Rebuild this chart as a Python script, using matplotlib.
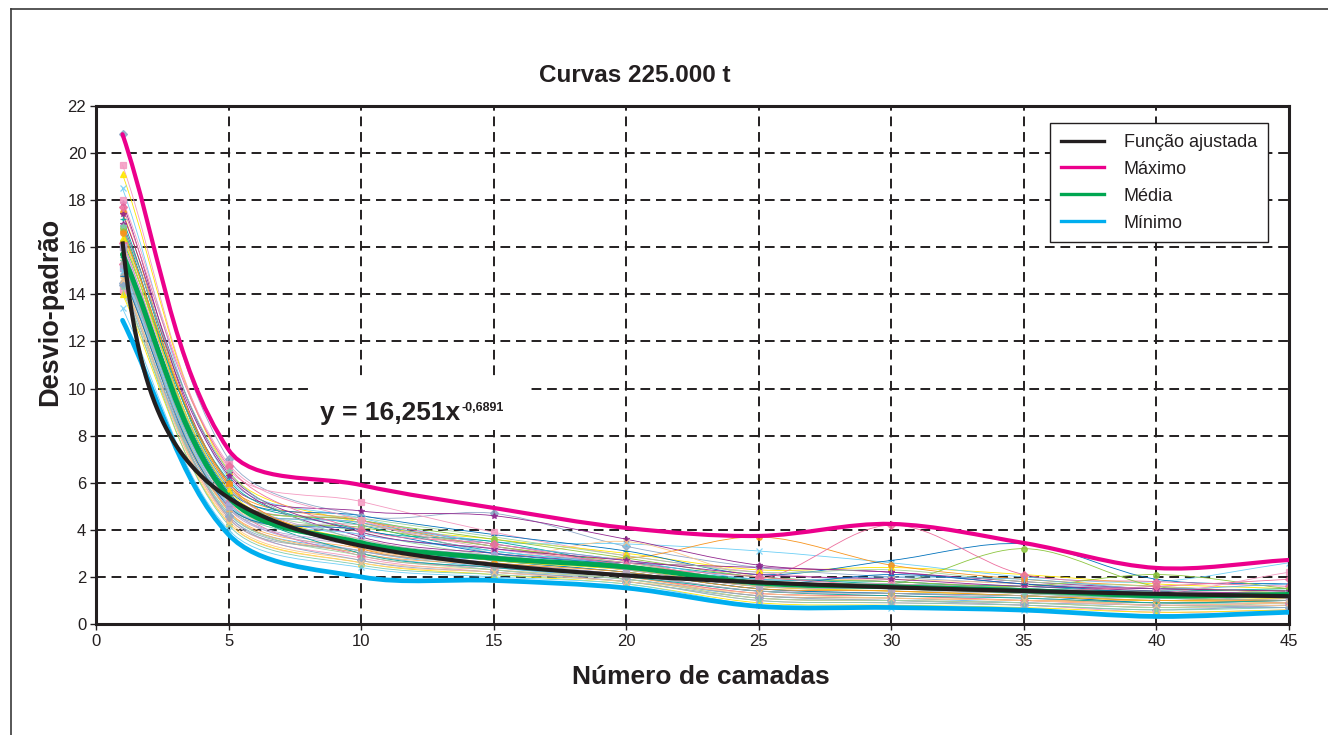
import numpy as np
import matplotlib
matplotlib.use("Agg")
import matplotlib.pyplot as plt
from matplotlib.path import Path
from matplotlib.patches import PathPatch, Rectangle
from matplotlib.lines import Line2D

plt.rcParams["font.family"] = ["Liberation Sans", "DejaVu Sans"]

# ---- data -------------------------------------------------------------
camadas = [1, 5, 10, 15, 20, 25, 30, 35, 40, 45]

maximo = [20.8, 7.4, 5.9, 4.93, 4.08, 3.74, 4.25, 3.44, 2.38, 2.72]
media = [15.7, 5.4, 3.45, 2.8, 2.42, 1.74, 1.58, 1.42, 1.2, 1.25]
minimo = [12.9, 3.8, 2.0, 1.85, 1.53, 0.75, 0.7, 0.59, 0.32, 0.5]

# fitted power function y = a * x^b
coef_a = 16.251
coef_b = -0.6891

# individual standard-deviation curves, one row per simulation
curvas = [
    [20.8, 7.0, 4.6, 4.7, 3.3, 2.4, 2.0, 1.7, 1.5, 1.4],
    [19.5, 6.6, 5.2, 3.9, 2.9, 2.2, 1.8, 1.6, 1.4, 1.3],
    [19.1, 6.5, 4.3, 3.6, 3.0, 2.3, 2.4, 2.1, 1.7, 1.5],
    [18.5, 6.2, 4.5, 3.5, 3.4, 3.1, 2.6, 2.0, 1.8, 2.6],
    [17.9, 6.0, 4.8, 4.6, 3.6, 2.5, 2.2, 1.8, 1.5, 1.4],
    [17.5, 5.9, 4.4, 3.3, 2.8, 3.7, 2.5, 1.9, 1.6, 1.3],
    [17.2, 5.8, 4.2, 3.1, 2.6, 2.0, 1.7, 1.6, 1.3, 1.2],
    [16.9, 5.7, 4.6, 3.8, 3.1, 2.1, 2.7, 3.4, 1.9, 1.7],
    [16.5, 5.6, 3.9, 2.9, 2.4, 1.8, 1.6, 1.5, 1.2, 1.1],
    [16.2, 5.5, 4.4, 3.4, 2.7, 1.9, 4.2, 2.1, 1.8, 1.6],
    [16.0, 5.4, 3.8, 3.2, 2.5, 1.7, 1.5, 1.4, 1.1, 1.0],
    [15.8, 5.3, 4.3, 3.0, 2.3, 1.6, 1.4, 1.3, 1.0, 1.2],
    [15.6, 5.2, 3.6, 2.8, 3.5, 2.0, 1.9, 1.7, 1.3, 1.1],
    [15.4, 5.1, 3.5, 2.7, 2.2, 1.5, 1.3, 1.2, 0.9, 0.9],
    [15.2, 5.0, 4.1, 3.3, 2.6, 1.8, 1.7, 3.2, 1.6, 1.4],
    [15.0, 4.9, 3.3, 2.6, 2.1, 1.4, 1.3, 1.1, 0.8, 0.8],
    [14.8, 4.8, 3.2, 2.5, 2.0, 1.3, 1.2, 1.0, 1.0, 0.9],
    [14.6, 4.7, 3.1, 2.4, 1.9, 1.2, 1.1, 0.9, 0.7, 0.7],
    [14.4, 4.6, 3.0, 2.3, 1.8, 1.1, 1.0, 0.8, 0.6, 0.8],
    [14.2, 4.5, 2.8, 2.2, 1.8, 1.0, 0.9, 0.8, 0.5, 0.6],
    [14.0, 4.3, 2.6, 2.1, 1.7, 0.9, 0.8, 0.7, 0.5, 0.6],
    [13.4, 4.0, 2.4, 2.0, 1.7, 0.8, 0.7, 0.6, 0.4, 0.55],
    [17.0, 6.3, 3.7, 3.0, 2.6, 2.4, 2.2, 1.7, 1.4, 1.3],
    [16.7, 5.9, 3.4, 2.8, 2.3, 1.6, 1.5, 1.3, 1.1, 1.0],
    [16.3, 6.1, 4.0, 3.5, 2.5, 1.9, 1.8, 1.5, 1.4, 1.5],
    [15.9, 5.6, 3.3, 2.7, 2.2, 1.5, 1.3, 1.2, 0.9, 1.0],
    [15.5, 5.4, 4.5, 3.7, 2.9, 2.2, 2.3, 1.8, 1.6, 1.3],
    [15.3, 5.2, 2.9, 2.4, 2.0, 1.3, 1.2, 1.0, 0.8, 0.9],
    [15.1, 5.0, 3.1, 2.6, 2.1, 1.4, 1.6, 1.4, 1.2, 1.1],
    [14.9, 4.9, 4.2, 3.3, 2.4, 1.7, 1.5, 1.3, 1.1, 1.2],
    [14.7, 4.4, 2.7, 2.3, 1.9, 1.1, 1.0, 0.9, 0.7, 0.8],
    [14.3, 4.2, 2.5, 2.1, 1.8, 1.0, 0.9, 0.8, 0.6, 0.7],
    [16.8, 5.5, 4.4, 3.6, 2.8, 2.0, 1.8, 1.6, 2.1, 1.5],
    [16.1, 5.8, 3.6, 2.9, 2.4, 1.7, 1.6, 1.5, 1.3, 1.2],
    [15.7, 4.8, 3.0, 2.5, 2.0, 1.2, 1.1, 1.0, 0.9, 1.0],
    [15.2, 5.3, 4.3, 3.4, 2.7, 1.9, 2.0, 1.9, 1.5, 1.7],
    [14.5, 4.6, 2.7, 2.2, 1.9, 1.2, 1.0, 0.9, 0.8, 0.7],
    [18.0, 6.8, 4.4, 3.2, 2.6, 1.8, 1.7, 1.5, 1.3, 2.2],
    [16.4, 5.7, 3.5, 2.7, 2.3, 1.6, 1.4, 1.2, 1.0, 1.1],
    [15.0, 5.1, 3.8, 3.1, 2.5, 1.8, 1.6, 1.4, 1.2, 1.3],
    [17.4, 6.4, 3.9, 3.2, 2.7, 2.1, 1.9, 1.6, 1.5, 1.4],
    [16.6, 6.0, 3.2, 2.6, 2.2, 1.5, 1.4, 1.2, 1.0, 1.0],
    [15.6, 5.5, 3.0, 2.4, 2.0, 1.4, 1.2, 1.1, 0.9, 1.0],
    [14.8, 5.0, 4.0, 3.0, 2.5, 1.7, 2.1, 1.7, 1.3, 1.2],
    [14.1, 4.7, 2.9, 2.3, 1.9, 1.1, 1.0, 0.9, 0.7, 0.9],
    [17.7, 6.7, 4.0, 3.4, 2.5, 2.0, 1.6, 1.4, 1.6, 1.9],
    [16.0, 5.0, 3.4, 2.9, 2.3, 1.6, 1.5, 1.4, 1.2, 1.1],
    [15.4, 4.5, 3.1, 2.5, 2.1, 1.4, 1.3, 1.2, 1.1, 1.0],
    [14.6, 4.3, 2.6, 2.2, 1.8, 1.3, 1.1, 1.0, 0.8, 0.9],
    [16.9, 6.5, 3.5, 2.8, 2.4, 1.8, 1.6, 1.3, 1.1, 1.2],
]

x_ticks = list(range(0, 46, 5))
y_ticks = list(range(0, 23, 2))

titulo = "Curvas 225.000 t"
rotulo_x = "Número de camadas"
rotulo_y = "Desvio-padrão"
legenda = ["Função ajustada", "Máximo", "Média", "Mínimo"]
equacao = "y = 16,251x"
expoente = "-0,6891"

# ---- styling ----------------------------------------------------------
INK = "#231F20"
COR_AJUSTE = "#231F20"
COR_MAX = "#EC008C"
COR_MEDIA = "#00A651"
COR_MIN = "#00AEEF"

cores_finas = ["#8FA8C8", "#F49AC1", "#FFE600", "#6DCFF6", "#92278F",
               "#F7941D", "#00A99D", "#0072BC", "#A3D39C", "#ED6F9E",
               "#B0A8D6", "#A7A9AC", "#FDC689", "#7FCBAE", "#8DC63F",
               "#C2A5CF", "#FBAF5D", "#5FB4E5"]
marcadores = ["D", "s", "^", "x", "*", "o", "+", "_", "|"]

fig = plt.figure(figsize=(13.28, 7.35), dpi=100)
ax = fig.add_axes([96 / 1328, 1 - 624 / 735, (1289 - 96) / 1328, (624 - 106) / 735])
ax.set_xlim(0, 45)
ax.set_ylim(0, 22)


def curva_suave(xs, ys):
    """Smoothed Bezier path through the points (chord-weighted Catmull-Rom)."""
    pts = np.column_stack([xs, ys]).astype(float)
    disp = ax.transData.transform(pts)
    n = len(pts)
    verts = [pts[0]]
    codes = [Path.MOVETO]
    for i in range(n - 1):
        i0 = max(i - 1, 0)
        i3 = min(i + 2, n - 1)
        d01 = np.hypot(*(disp[i] - disp[i0]))
        d12 = np.hypot(*(disp[i + 1] - disp[i]))
        d23 = np.hypot(*(disp[i3] - disp[i + 1]))
        w1 = d12 / (d01 + d12) if d01 + d12 > 0 else 0.5
        w2 = d12 / (d12 + d23) if d12 + d23 > 0 else 0.5
        c1 = pts[i] + (pts[i + 1] - pts[i0]) * w1 / 3.0
        c2 = pts[i + 1] - (pts[i3] - pts[i]) * w2 / 3.0
        verts += [c1, c2, pts[i + 1]]
        codes += [Path.CURVE4] * 3
    return Path(verts, codes)


def desenha(xs, ys, cor, lw, z):
    ax.add_patch(PathPatch(curva_suave(xs, ys), facecolor="none", edgecolor=cor,
                           lw=lw, zorder=z, capstyle="round", joinstyle="round"))


# thin individual curves with their point markers
for k, serie in enumerate(curvas):
    cor = cores_finas[k % len(cores_finas)]
    desenha(camadas, serie, cor, 0.6, 2)
    ax.plot(camadas, serie, linestyle="none", marker=marcadores[k % len(marcadores)],
            ms=4, mfc=cor, mec=cor, mew=0.9, alpha=0.85, zorder=2.5)

# envelope and mean curves
desenha(camadas, minimo, COR_MIN, 3.4, 4)
desenha(camadas, maximo, COR_MAX, 3.0, 4.1)
desenha(camadas, media, COR_MEDIA, 3.6, 4.2)

# fitted power function
x_aj = np.linspace(camadas[0], camadas[-1], 400)
ax.plot(x_aj, coef_a * x_aj ** coef_b, color=COR_AJUSTE, lw=3.0, zorder=4.5,
        solid_capstyle="butt")

# axes, grid and ticks
ax.set_axisbelow(True)
ax.set_xticks(x_ticks)
ax.set_yticks(y_ticks)
ax.grid(True, color=INK, lw=1.4, ls=(0, (5, 3)))
ax.tick_params(direction="out", length=4, width=1, labelsize=12,
               colors=INK, pad=3)
for sp in ax.spines.values():
    sp.set_linewidth(2.2)
    sp.set_color(INK)

# equation label on a white patch
ax.add_patch(Rectangle(((313 - 96) / 1193, (624 - 430) / 518),
                       (527 - 313) / 1193, (430 - 376) / 518,
                       transform=ax.transAxes, facecolor="white",
                       edgecolor="none", zorder=1))
eq = ax.text(0.1878, 0.3938, equacao, transform=ax.transAxes, fontsize=19,
             fontweight="bold", color=INK, ha="left", va="baseline", zorder=5)
ax.annotate(expoente, xy=(1.0, 0.58), xycoords=eq, xytext=(1, 0),
            textcoords="offset points", fontsize=9, fontweight="bold",
            color=INK, ha="left", va="baseline", zorder=5)

# legend
handles = [Line2D([], [], color=COR_AJUSTE, lw=2.4),
           Line2D([], [], color=COR_MAX, lw=2.4),
           Line2D([], [], color=COR_MEDIA, lw=2.4),
           Line2D([], [], color=COR_MIN, lw=2.4)]
leg = ax.legend(handles, legenda, loc="upper right",
                bbox_to_anchor=((1268 - 96) / 1193, (624 - 123) / 518),
                borderaxespad=0, frameon=True, fancybox=False, fontsize=13,
                handlelength=2.4, handletextpad=1.1, labelspacing=0.55,
                borderpad=0.6, framealpha=1)
leg.get_frame().set_edgecolor(INK)
leg.get_frame().set_linewidth(1.0)
for t in leg.get_texts():
    t.set_color(INK)
leg.set_zorder(10)

# titles
fig.text(635 / 1328, 1 - 75 / 735, titulo, ha="center", va="center",
         fontsize=17.5, fontweight="bold", color=INK)
fig.text(701 / 1328, 1 - 677 / 735, rotulo_x, ha="center", va="center",
         fontsize=19, fontweight="bold", color=INK)
fig.text(50 / 1328, 1 - 312 / 735, rotulo_y, ha="center", va="center",
         rotation=90, fontsize=19.5, fontweight="bold", color=INK)

# chart-area frame (left and top edges)
fig.add_artist(Line2D([11 / 1328, 11 / 1328], [0, 1 - 9 / 735],
                      transform=fig.transFigure, color="#3a3a3a", lw=1.2))
fig.add_artist(Line2D([11 / 1328, 1], [1 - 9 / 735, 1 - 9 / 735],
                      transform=fig.transFigure, color="#3a3a3a", lw=1.2))

fig.savefig("out.png", dpi=100, facecolor="white")
